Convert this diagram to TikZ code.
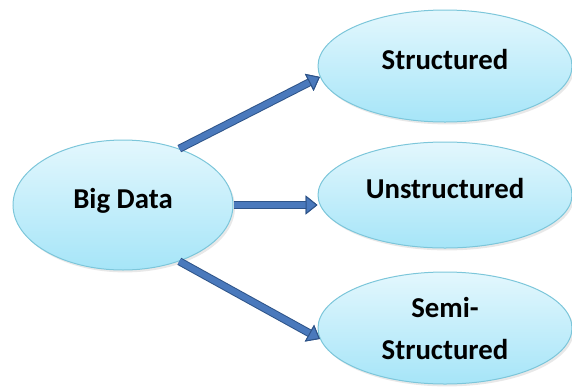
\documentclass[tikz,border=0pt]{standalone}
\usepackage{fontspec}
\setmainfont{Carlito}
\usepackage{tikz}
\usetikzlibrary{arrows.meta}
\usetikzlibrary{shapes.geometric}
\usetikzlibrary{shadows}
\usetikzlibrary{calc}
\definecolor{blobtop}{HTML}{E3F7FD}
\definecolor{blobbot}{HTML}{A6E5F8}
\definecolor{blobline}{HTML}{7CC6DA}
\definecolor{arrfill}{HTML}{4A79BC}
\definecolor{arrline}{HTML}{2E5489}
\tikzset{
blob/.style 2 args = {ellipse, draw=blobline, line width=0.5pt,
              top color=blobtop, bottom color=blobbot,
              minimum width=#1, minimum height=#2, inner sep=0pt,
              align=center, font=\fontsize{14.4}{21}\selectfont\bfseries,
              drop shadow={shadow xshift=1pt, shadow yshift=-1.2pt,
                           opacity=0.15, fill=black!60}},
lift/.style = {text depth=7pt},
bigarrow/.style = {line width=3pt, draw=arrfill,
              -{Triangle[width=9.5pt, length=6pt, line width=0.5pt, fill=arrfill, color=arrline]},
              preaction={draw=arrline, line width=4pt,
              -{Triangle[width=9.5pt, length=6pt, line width=0.5pt, fill=arrfill, color=arrline]}}}
}
\newcommand{\flow}[2]{\draw[bigarrow] (#1) -- (#2);}

\begin{document}
\begin{tikzpicture}[x=0.5pt, y=-0.5pt]
        \useasboundingbox (0,0) rectangle (572,386);
        \node[blob={110pt}{65pt}, lift] (big) at (123,205) {Big Data};
        \node[blob={127pt}{56pt}, lift] (struct) at (445,66) {Structured};
        \node[blob={127pt}{53pt}, lift] (unstr) at (445,195) {Unstructured};
        \node[blob={127pt}{56pt}] (semi) at (445,328) {Semi-\\Structured};
        \flow{big.45}{struct.185}
        \flow{big.east}{big.east -| unstr.west}
        \flow{big.-45}{semi.185}
\end{tikzpicture}
\end{document}
